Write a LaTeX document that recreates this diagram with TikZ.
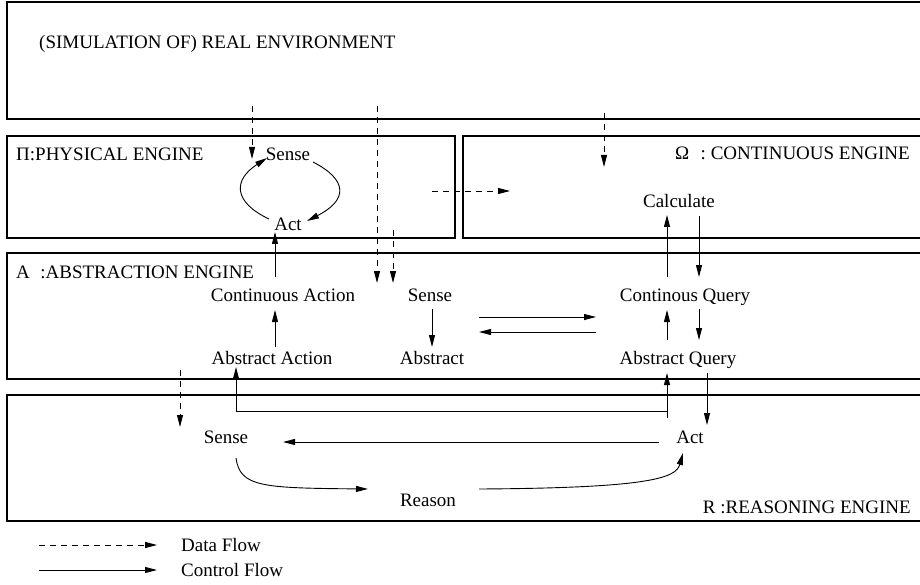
\documentclass[tikz,border=0pt]{standalone}
\usepackage{fontspec}
\setmainfont{Liberation Serif}
\usetikzlibrary{arrows.meta}
\begin{document}
\begin{tikzpicture}[x=1pt,y=-1pt,
  txt/.style={inner sep=0pt, text height=12pt, text depth=0pt, font=\fontsize{19}{22}\selectfont},
  box/.style={draw, line width=1.1pt, inner sep=0pt, outer sep=0pt, anchor=north west},
  ctl/.style={line width=0.9pt, -{Triangle[length=12pt,width=6pt]}},
  dat/.style={ctl, dash pattern=on 6pt off 5pt},
]
\useasboundingbox (0,0) rectangle (920,585);
\clip (0,0) rectangle (920,585);

% boxes
\node[box, minimum width=918pt, minimum height=117pt] (envbox) at (7,2) {};
\node[box, minimum width=448pt, minimum height=102pt] (physbox) at (7,136) {};
\node[box, minimum width=460pt, minimum height=102pt] (contbox) at (463,136) {};
\node[box, minimum width=918pt, minimum height=126pt] (absbox) at (7,253) {};
\node[box, minimum width=918pt, minimum height=126pt] (reasbox) at (7,395) {};

% labels
\node[txt, anchor=west] (envlbl) at (39,43) {(SIMULATION OF) REAL ENVIRONMENT};
\node[txt, anchor=west] (physlbl) at (16,155) {Π:PHYSICAL ENGINE};
\node[txt, anchor=west] (contlbl) at (675,154) {Ω\hspace{0.6em}: CONTINUOUS ENGINE};
\node[txt, anchor=west] (abslbl) at (16,272) {A\hspace{0.55em}:ABSTRACTION ENGINE};
\node[txt, anchor=east] (reaslbl) at (911,507) {R :REASONING ENGINE};

% nodes
\node[txt] (pSense) at (288,155) {Sense};
\node[txt] (pAct) at (288,225) {Act};
\node[txt] (calc) at (679,202) {Calculate};
\node[txt] (contAction) at (283,295) {Continuous Action};
\node[txt] (aSense) at (430,295) {Sense};
\node[txt] (absAction) at (272,358) {Abstract Action};
\node[txt] (abstract) at (432,358) {Abstract};
\node[txt] (contQuery) at (685,295) {Continous Query};
\node[txt] (absQuery) at (678,358) {Abstract Query};
\node[txt] (rSense) at (226,437) {Sense};
\node[txt] (rAct) at (690,437) {Act};
\node[txt] (reason) at (428,500) {Reason};

% free ends of data flows
\coordinate (d1) at (252,106);
\coordinate (d2) at (377,106);
\coordinate (d3) at (393,230);
\coordinate (d5s) at (604,113);
\coordinate (d5e) at (604,167);
\coordinate (d6) at (180,370);

% data flows
\draw[dat] (d1) -- ([shift={(-36,4)}]pSense.center);
\draw[dat] (d2) -- ([shift={(-53,-12)}]aSense.center);
\draw[dat] (d3) -- ([shift={(-37,-12)}]aSense.center);
\draw[dat] ([shift={(-23,4)}]physbox.east) -- ([shift={(47,4)}]contbox.west);
\draw[dat] (d5s) -- (d5e);
\draw[dat] (d6) -- ([shift={(-46,-10)}]rSense.center);

% physical engine cycle
\draw[ctl] ([shift={(-19,-6)}]pAct.center) .. controls (233,202) and (233,180) .. ([shift={(-21,3)}]pSense.center);
\draw[ctl] ([shift={(25,7)}]pSense.center) .. controls (348,180) and (348,200) .. ([shift={(19,-4)}]pAct.center);

% abstraction engine
\draw[ctl] ([shift={(-8,-18)}]contAction.center) -- ([shift={(-13,7)}]pAct.center);
\draw[ctl] ([shift={(3,-11)}]absAction.center) -- ([shift={(-8,15)}]contAction.center);
\draw[ctl] ([shift={(2,14)}]aSense.center) -- ([shift={(0,-11)}]abstract.center);
\draw[ctl] ([shift={(49,22)}]aSense.center) -- ([shift={(-89,22)}]contQuery.center);
\draw[ctl] ([shift={(-89,37)}]contQuery.center) -- ([shift={(49,37)}]aSense.center);
\draw[ctl] ([shift={(-18,-18)}]contQuery.center) -- ([shift={(-12,13)}]calc.center);
\draw[ctl] ([shift={(20,14)}]calc.center) -- ([shift={(14,-18)}]contQuery.center);
\draw[ctl] ([shift={(-11,-18)}]absQuery.center) -- ([shift={(-18,15)}]contQuery.center);
\draw[ctl] ([shift={(14,14)}]contQuery.center) -- ([shift={(21,-18)}]absQuery.center);

% reasoning engine links
\draw[ctl] ([shift={(-23,-19)}]rAct.center) -- ([shift={(-11,15)}]absQuery.center);
\draw[ctl] ([shift={(-23,-26)}]rAct.center) -| ([shift={(-36,9)}]absAction.center);
\draw[ctl] ([shift={(29,15)}]absQuery.center) -- ([shift={(17,-12)}]rAct.center);
\draw[ctl] ([shift={(-31,5)}]rAct.center) -- ([shift={(57,5)}]rSense.center);
\draw[ctl] ([shift={(10,21)}]rSense.center) .. controls (240,487) and (262,488) .. ([shift={(-60,-11)}]reason.center);
\draw[ctl] ([shift={(51,-11)}]reason.center) .. controls (650,488) and (676,478) .. ([shift={(-7,16)}]rAct.center);

% legend
\node[txt, anchor=west] (dataLbl) at (181,545) {Data Flow};
\node[txt, anchor=west] (ctlLbl) at (181,570) {Control Flow};
\draw[dat] ([xshift=-142pt]dataLbl.west) -- ([xshift=-24pt]dataLbl.west);
\draw[ctl] ([xshift=-142pt]ctlLbl.west) -- ([xshift=-24pt]ctlLbl.west);
\end{tikzpicture}
\end{document}
